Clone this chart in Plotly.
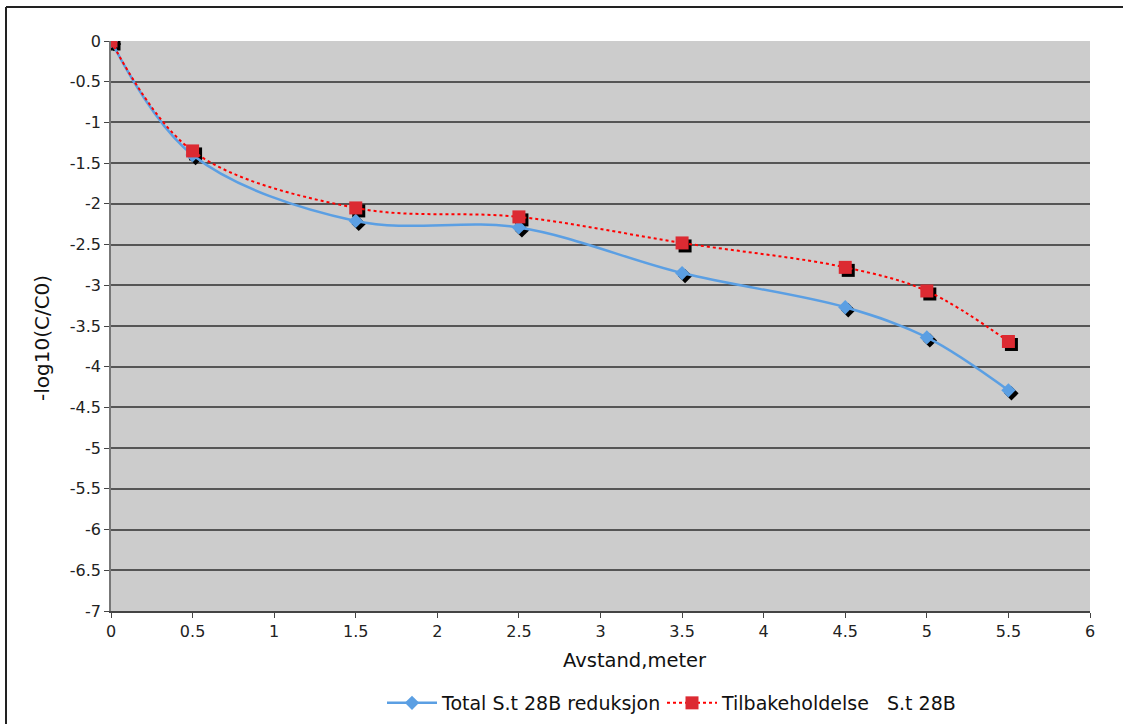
import plotly.graph_objects as go

x_vals = [0, 0.5, 1.5, 2.5, 3.5, 4.5, 5, 5.5]
total_red = [0, -1.40, -2.21, -2.29, -2.85, -3.27, -3.64, -4.29]
tilbake = [0, -1.35, -2.05, -2.16, -2.48, -2.78, -3.07, -3.69]

x_tickvals = [0, 0.5, 1, 1.5, 2, 2.5, 3, 3.5, 4, 4.5, 5, 5.5, 6]
x_ticktext = ["0", "0.5", "1", "1.5", "2", "2.5", "3", "3.5", "4", "4.5", "5", "5.5", "6"]
y_tickvals = [0, -0.5, -1, -1.5, -2, -2.5, -3, -3.5, -4, -4.5, -5, -5.5, -6, -6.5, -7]
y_ticktext = ["0", "-0.5", "-1", "-1.5", "-2", "-2.5", "-3", "-3.5", "-4", "-4.5", "-5", "-5.5", "-6", "-6.5", "-7"]

name_total = "Total S.t 28B reduksjon"
name_tilb = "Tilbakeholdelse   S.t 28B"
x_title = "Avstand,meter"
y_title = "-log10(C/C0)"

W, H = 1123, 724
ML, MR, MT, MB = 111, 33, 41, 113
PW, PH = W - ML - MR, H - MT - MB
x_range = [0, 6]
y_range = [-7, 0]
px_x = (x_range[1] - x_range[0]) / PW
px_y = (y_range[1] - y_range[0]) / PH
dx, dy = 3 * px_x, -3 * px_y

font = "DejaVu Sans, Verdana, sans-serif"

fig = go.Figure()
# marker shadows
fig.add_trace(go.Scatter(x=[v + dx for v in x_vals], y=[v + dy for v in total_red], mode="markers",
                         marker=dict(symbol="diamond", size=11, color="black"),
                         showlegend=False, hoverinfo="skip"))
fig.add_trace(go.Scatter(x=[v + dx for v in x_vals], y=[v + dy for v in tilbake], mode="markers",
                         marker=dict(symbol="square", size=13, color="black"),
                         showlegend=False, hoverinfo="skip"))
fig.add_trace(go.Scatter(x=x_vals, y=total_red, mode="lines+markers", name=name_total, legend="legend",
                         line=dict(color="#5b9fe3", width=2.5, shape="spline", smoothing=1.0),
                         marker=dict(symbol="diamond", size=11, color="#5b9fe3")))
fig.add_trace(go.Scatter(x=x_vals, y=tilbake, mode="lines+markers", name=name_tilb, legend="legend2",
                         line=dict(color="#ff0000", width=2, dash="dot", shape="spline", smoothing=1.0),
                         marker=dict(symbol="square", size=13, color="#dc2a32")))

# outer chart border (only left and top edges fall inside the picture)
fig.add_shape(type="line", xref="paper", yref="paper",
              x0=(6 - ML) / PW, x1=(6 - ML) / PW, y0=(H - MB - 7) / PH, y1=(H - MB - H) / PH,
              line=dict(color="#222222", width=2), layer="below")
fig.add_shape(type="line", xref="paper", yref="paper",
              x0=(6 - ML) / PW, x1=(W - ML) / PW, y0=(H - MB - 7) / PH, y1=(H - MB - 7) / PH,
              line=dict(color="#222222", width=2), layer="below")

fig.add_annotation(text=x_title, xref="paper", yref="paper", x=(635 - ML) / PW, y=(H - MB - 660) / PH,
                   xanchor="center", yanchor="middle", showarrow=False,
                   font=dict(family=font, size=19.5, color="#111111"))
fig.add_annotation(text=y_title, xref="paper", yref="paper", x=(42 - ML) / PW, y=(H - MB - 338) / PH,
                   xanchor="center", yanchor="middle", showarrow=False, textangle=-90,
                   font=dict(family=font, size=20, color="#111111"))

legend_common = dict(orientation="h", xref="container", yref="container", xanchor="left",
                     y=1 - 684 / H, yanchor="top", itemwidth=50,
                     font=dict(family=font, size=19, color="#111111"), bgcolor="rgba(0,0,0,0)")

fig.update_layout(
    width=W, height=H,
    margin=dict(l=ML, r=MR, t=MT, b=MB, autoexpand=False),
    paper_bgcolor="white", plot_bgcolor="#cccccc",
    font=dict(family=font, size=16, color="#222222"),
    showlegend=True,
    legend=dict(x=382 / W, **legend_common),
    legend2=dict(x=662 / W, **legend_common),
    xaxis=dict(range=x_range, tickmode="array", tickvals=x_tickvals, ticktext=x_ticktext,
               showgrid=False, zeroline=False, automargin=False,
               showline=True, linecolor="#444444", linewidth=1.5, ticks="outside", ticklen=5,
               tickcolor="#444444", tickfont=dict(size=16)),
    yaxis=dict(range=y_range, tickmode="array", tickvals=y_tickvals, ticktext=y_ticktext,
               showgrid=True, gridcolor="#555555", gridwidth=1.5, automargin=False,
               zeroline=False, showline=True, linecolor="#777777", linewidth=1.5, ticks="outside",
               ticklen=5, tickcolor="#444444", tickfont=dict(size=16)),
)

fig.write_html("out.html")
